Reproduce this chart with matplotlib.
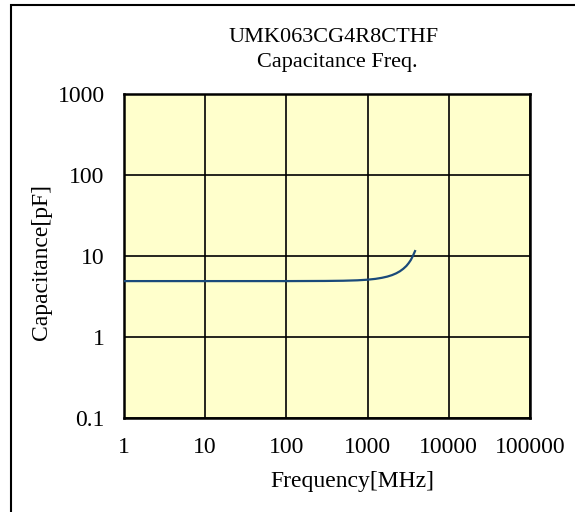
import matplotlib
matplotlib.use("Agg")
import matplotlib.pyplot as plt
from matplotlib.patches import Rectangle
from matplotlib.ticker import FixedLocator, NullLocator

freq_mhz = [1, 10, 100, 300, 500, 750, 1000, 1250, 1500, 1750, 2000, 2250, 2500, 2750, 3000, 3200, 3400, 3600, 3838]
cap_pf = [4.9, 4.9, 4.9, 4.92, 4.95, 5.01, 5.1, 5.22, 5.38, 5.57, 5.81, 6.11, 6.48, 6.95, 7.53, 8.15, 8.9, 9.95, 11.5]

x_ticks = [1, 10, 100, 1000, 10000, 100000]
x_labels = ["1", "10", "100", "1000", "10000", "100000"]
y_ticks = [0.1, 1, 10, 100, 1000]
y_labels = ["0.1", "1", "10", "100", "1000"]

title_lines = ["UMK063CG4R8CTHF", "Capacitance Freq."]
x_title = "Frequency[MHz]"
y_title = "Capacitance[pF]"

plt.rcParams['font.family'] = ['Liberation Serif', 'DejaVu Serif']

W, H = 575, 512
fig = plt.figure(figsize=(W / 100, H / 100), dpi=100)
fig.patch.set_facecolor("white")

# outer border
fig.patches.append(Rectangle((11 / W, -0.02), 1.1, 1 - 5 / H + 0.02, transform=fig.transFigure,
                             fill=False, edgecolor="black", linewidth=1.5))

ax = fig.add_axes([124 / W, 1 - 418 / H, (530 - 124) / W, (418 - 94) / H])
ax.set_facecolor("#FFFFCC")
ax.set_xscale("log")
ax.set_yscale("log")
ax.set_xlim(1, 100000)
ax.set_ylim(0.1, 1000)

ax.plot(freq_mhz, cap_pf, color="#1A4A7A", linewidth=1.6, zorder=3)

ax.xaxis.set_major_locator(FixedLocator(x_ticks))
ax.yaxis.set_major_locator(FixedLocator(y_ticks))
ax.xaxis.set_minor_locator(NullLocator())
ax.yaxis.set_minor_locator(NullLocator())
ax.set_xticklabels(x_labels)
ax.set_yticklabels(y_labels)
ax.tick_params(axis="both", length=0, labelsize=17)
ax.tick_params(axis="x", pad=14)
ax.tick_params(axis="y", pad=14)
ax.grid(True, color="black", linewidth=1.2)
for s in ax.spines.values():
    s.set_linewidth(1.8)
    s.set_color("black")

fig.text(352 / W, 1 - 481 / H, x_title, ha="center", va="center", fontsize=17)
fig.text(42 / W, 1 - 262 / H, y_title, ha="center", va="center", rotation=90, fontsize=17)

fig.text(334 / W, 1 - 37 / H, title_lines[0], ha="center", va="center", fontsize=16)
fig.text(337 / W, 1 - 63 / H, title_lines[1], ha="center", va="center", fontsize=16)

fig.savefig("out.png", dpi=100)
